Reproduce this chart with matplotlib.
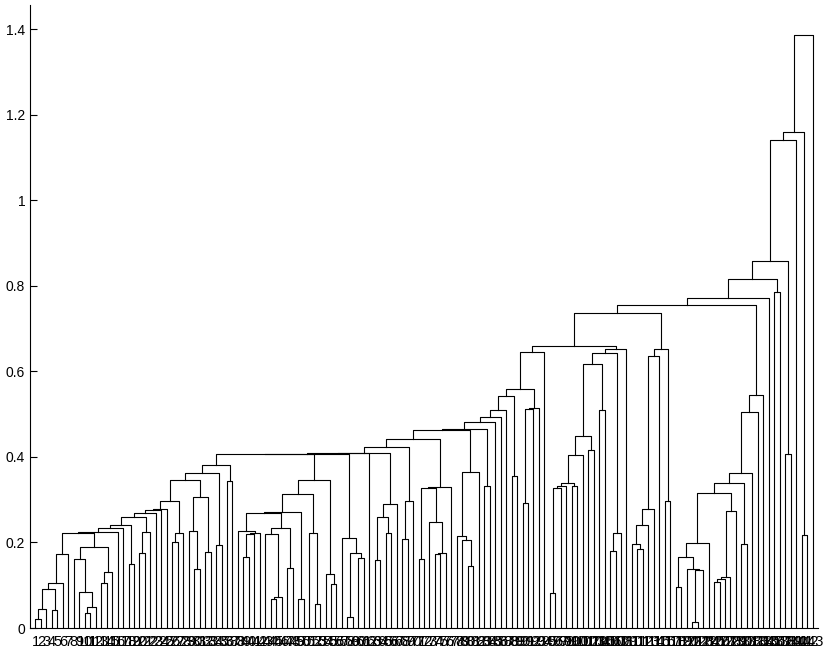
import matplotlib
matplotlib.use('Agg')
import matplotlib.pyplot as plt

# height at which each pair of neighbouring leaves is joined (left to right)
gaps = [0.020, 0.044, 0.091, 0.041, 0.106, 0.172, 0.223, 0.161, 0.084, 0.034,
        0.049, 0.190, 0.106, 0.132, 0.225, 0.233, 0.240, 0.149, 0.259, 0.176,
        0.224, 0.269, 0.276, 0.279, 0.296, 0.200, 0.222, 0.345, 0.228, 0.139,
        0.307, 0.177, 0.362, 0.193, 0.381, 0.343, 0.406, 0.226, 0.167, 0.220,
        0.222, 0.268, 0.221, 0.068, 0.073, 0.233, 0.141, 0.272, 0.068, 0.314,
        0.222, 0.057, 0.345, 0.126, 0.104, 0.408, 0.211, 0.026, 0.176, 0.164,
        0.409, 0.410, 0.160, 0.259, 0.222, 0.290, 0.423, 0.208, 0.297, 0.443,
        0.161, 0.328, 0.247, 0.172, 0.175, 0.330, 0.463, 0.214, 0.206, 0.145,
        0.365, 0.466, 0.332, 0.481, 0.493, 0.509, 0.542, 0.355, 0.559, 0.293,
        0.512, 0.514, 0.646, 0.659, 0.081, 0.327, 0.331, 0.340, 0.331, 0.404,
        0.448, 0.417, 0.618, 0.511, 0.642, 0.181, 0.222, 0.653, 0.737, 0.196,
        0.185, 0.241, 0.278, 0.637, 0.653, 0.298, 0.756, 0.096, 0.167, 0.137,
        0.013, 0.135, 0.198, 0.315, 0.108, 0.114, 0.119, 0.274, 0.338, 0.197,
        0.362, 0.505, 0.546, 0.771, 0.817, 0.785, 0.859, 0.406, 1.141, 1.160,
        0.217, 1.388]

# leaf labels (observation numbers, left to right)
labels = [str(i) for i in range(1, len(gaps) + 2)]

plt.rcParams['font.family'] = ['Liberation Sans', 'DejaVu Sans']
fig = plt.figure(figsize=(8.3, 6.54), dpi=100)
ax = fig.add_axes([30/830, 26/654, 788/830, 623/654])


def draw(lo, hi):
    if lo == hi:
        return lo + 1, 0.0
    sub = gaps[lo:hi]
    m = lo + sub.index(max(sub))
    xl, hl = draw(lo, m)
    xr, hr = draw(m + 1, hi)
    h = gaps[m]
    ax.plot([xl, xl, xr, xr], [hl, h, h, hr], color='k', lw=0.8)
    return (xl + xr) / 2, h


draw(0, len(labels) - 1)

ax.set_xlim(0, len(labels) + 1)
ax.set_ylim(0, 1.457)
ax.set_yticks([0, 0.2, 0.4, 0.6, 0.8, 1, 1.2, 1.4])
ax.set_yticklabels(['0', '0.2', '0.4', '0.6', '0.8', '1', '1.2', '1.4'])
ax.set_xticks(range(1, len(labels) + 1))
ax.set_xticklabels(labels)
ax.spines['top'].set_visible(False)
ax.spines['right'].set_visible(False)
ax.tick_params(direction='in', length=5, width=0.8, labelsize=10)
ax.tick_params(axis='x', length=0, pad=5, labelsize=10.5)

fig.savefig('out.png', dpi=100)
